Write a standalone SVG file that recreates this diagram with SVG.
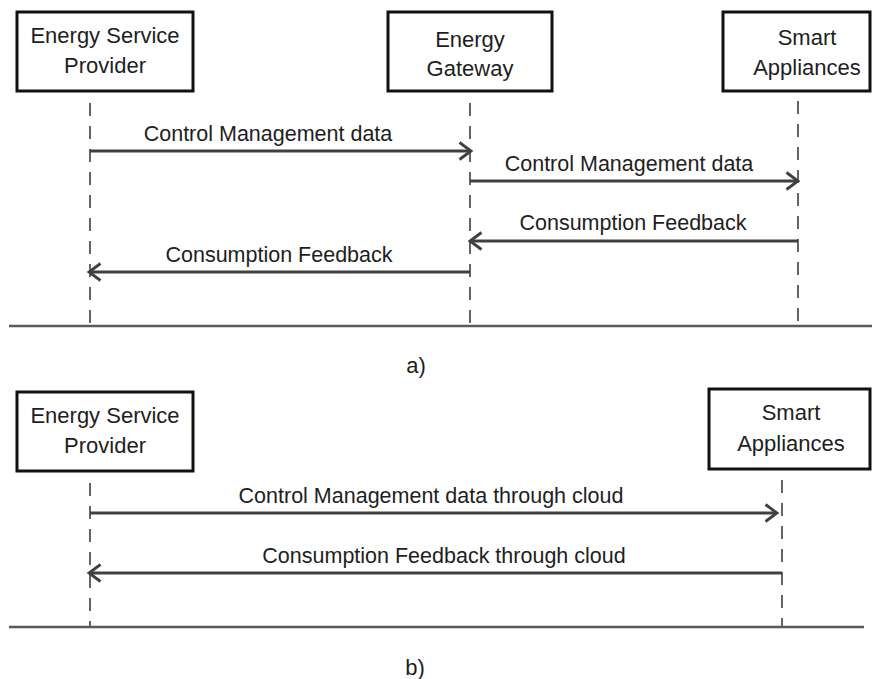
<svg xmlns="http://www.w3.org/2000/svg" width="872" height="679" viewBox="0 0 872 679">
  <style>
    .box { fill: #ffffff; stroke: #111111; stroke-width: 3; }
    .btxt { font-family: "Liberation Sans", Arial, sans-serif; font-size: 22px; fill: #1e1e1e; text-anchor: middle; }
    .lbl { font-family: "Liberation Sans", Arial, sans-serif; font-size: 21.5px; fill: #1e1e1e; text-anchor: middle; }
    .life { stroke: #555555; stroke-width: 1.8; stroke-dasharray: 13 10; fill: none; }
    .msg { stroke: #404040; stroke-width: 2.8; fill: none; marker-end: url(#arr); }
    .sep { stroke: #5a5a5a; stroke-width: 2.5; fill: none; }
  </style>
  <defs>
    <marker id="arr" markerUnits="userSpaceOnUse" markerWidth="24" markerHeight="24" viewBox="-14 -12 16 24" refX="0" refY="0" orient="auto">
      <path d="M-11.5,-8.5 L0,0 L-11.5,8.5" fill="none" stroke="#404040" stroke-width="2.8" stroke-linejoin="miter"/>
    </marker>
  </defs>
  <rect width="872" height="679" fill="#ffffff"/>

  <!-- Part a -->
  <g id="a-esp">
    <rect class="box" x="17" y="12" width="176" height="79"/>
    <text class="btxt" x="105" y="43">Energy Service</text>
    <text class="btxt" x="105" y="73">Provider</text>
  </g>
  <g id="a-gateway">
    <rect class="box" x="388" y="12" width="164" height="79"/>
    <text class="btxt" x="470" y="47">Energy</text>
    <text class="btxt" x="470" y="76">Gateway</text>
  </g>
  <g id="a-smart">
    <rect class="box" x="723" y="12" width="147" height="79"/>
    <text class="btxt" x="807" y="45">Smart</text>
    <text class="btxt" x="807" y="75">Appliances</text>
  </g>

  <g id="a-lifelines">
    <line class="life" x1="90" y1="103" x2="90" y2="326"/>
    <line class="life" x1="470" y1="103" x2="470" y2="326"/>
    <line class="life" x1="798" y1="101" x2="798" y2="326"/>
  </g>

  <g id="a-connectors">
    <line class="msg" x1="90" y1="151" x2="471" y2="151"/>
    <line class="msg" x1="470" y1="181" x2="798" y2="181"/>
    <line class="msg" x1="798" y1="241" x2="470" y2="241"/>
    <line class="msg" x1="470" y1="272" x2="89" y2="272"/>
  </g>
  <g id="a-labels">
    <text class="lbl" x="268" y="141">Control Management data</text>
    <text class="lbl" x="629" y="171">Control Management data</text>
    <text class="lbl" x="633" y="230">Consumption Feedback</text>
    <text class="lbl" x="279" y="262">Consumption Feedback</text>
  </g>

  <line class="sep" x1="9" y1="326" x2="872" y2="326"/>
  <text class="btxt" x="416" y="373">a)</text>

  <!-- Part b -->
  <g id="b-esp">
    <rect class="box" x="17" y="392" width="176" height="79"/>
    <text class="btxt" x="105" y="423">Energy Service</text>
    <text class="btxt" x="105" y="453">Provider</text>
  </g>
  <g id="b-smart">
    <rect class="box" x="709" y="389" width="161" height="80"/>
    <text class="btxt" x="791" y="420">Smart</text>
    <text class="btxt" x="791" y="451">Appliances</text>
  </g>

  <g id="b-lifelines">
    <line class="life" x1="90" y1="483" x2="90" y2="627"/>
    <line class="life" x1="782" y1="480" x2="782" y2="627"/>
  </g>

  <g id="b-connectors">
    <line class="msg" x1="90" y1="513" x2="777" y2="513"/>
    <line class="msg" x1="782" y1="573" x2="89" y2="573"/>
  </g>
  <g id="b-labels">
    <text class="lbl" x="431" y="503">Control Management data through cloud</text>
    <text class="lbl" x="444" y="563">Consumption Feedback through cloud</text>
  </g>

  <line class="sep" x1="9" y1="627" x2="864" y2="627"/>
  <text class="btxt" x="415" y="675">b)</text>
</svg>
